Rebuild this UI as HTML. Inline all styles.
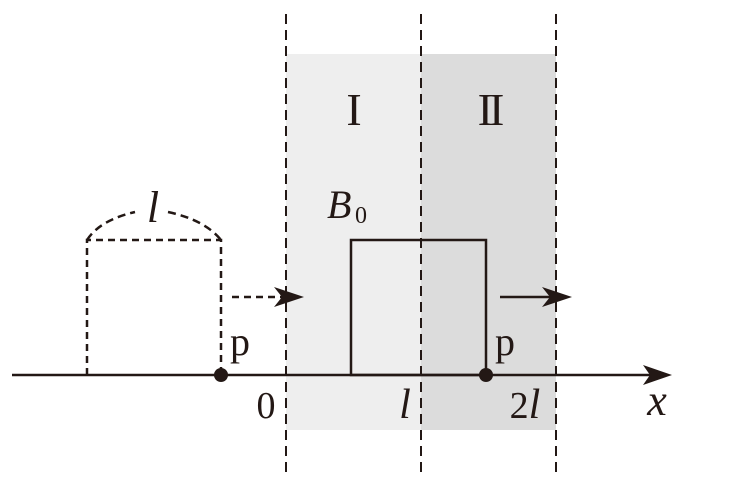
<!DOCTYPE html>
<html><head><style>body{margin:0;background:#fff}svg{display:block}text{font-family:"Liberation Serif","DejaVu Serif",serif}</style></head><body>
<svg width="735" height="485" xmlns="http://www.w3.org/2000/svg" fill="#231815">
<rect x="286" y="54" width="135" height="376" fill="#eeeeee"/>
<rect x="421" y="54" width="135" height="376" fill="#dcdcdc"/>
<g stroke="#231815" stroke-width="2" stroke-dasharray="10,6" fill="none">
<line x1="286" y1="14" x2="286" y2="475"/>
<line x1="421" y1="14" x2="421" y2="475"/>
<line x1="556" y1="14" x2="556" y2="475"/>
</g>
<line x1="12" y1="375" x2="660" y2="375" stroke="#231815" stroke-width="2.5"/>
<polygon points="672,375 643,365 650,375 643,385"/>
<rect x="351" y="240" width="135" height="135" fill="none" stroke="#231815" stroke-width="2.5"/>
<g stroke="#231815" stroke-width="2.5" fill="none" stroke-dasharray="7,5">
<path d="M87,375 V240 H221 V375"/>
<path d="M87,240 Q100,220 135,212 M168,212 Q205,220 221,240" stroke-dasharray="8,5"/>
<line x1="232" y1="297" x2="290" y2="297"/>
</g>
<polygon points="304,297 274,287 282,297 274,307"/>
<line x1="500" y1="297" x2="558" y2="297" stroke="#231815" stroke-width="2.5"/>
<polygon points="572,297 542,287 550,297 542,307"/>
<circle cx="221" cy="375" r="7"/>
<circle cx="486" cy="375" r="7"/>
<text x="153" y="222" font-size="44" font-style="italic" text-anchor="middle">l</text>
<text x="230" y="355" font-size="40">p</text>
<text x="495" y="355" font-size="40">p</text>
<text x="266" y="418" font-size="38" text-anchor="middle">0</text>
<text x="405" y="418" font-size="42" font-style="italic" text-anchor="middle">l</text>
<text x="525" y="418" font-size="38" text-anchor="middle">2<tspan font-style="italic" font-size="42">l</tspan></text>
<text x="657" y="415" font-size="44" font-style="italic" text-anchor="middle">x</text>
<text x="327" y="218" font-size="40" font-style="italic">B</text>
<text x="355" y="223" font-size="24">0</text>
<text x="354" y="125" font-size="46" text-anchor="middle">I</text>
<text x="489" y="125" font-size="46" text-anchor="middle" letter-spacing="-4">II</text>
</svg>
</body></html>
